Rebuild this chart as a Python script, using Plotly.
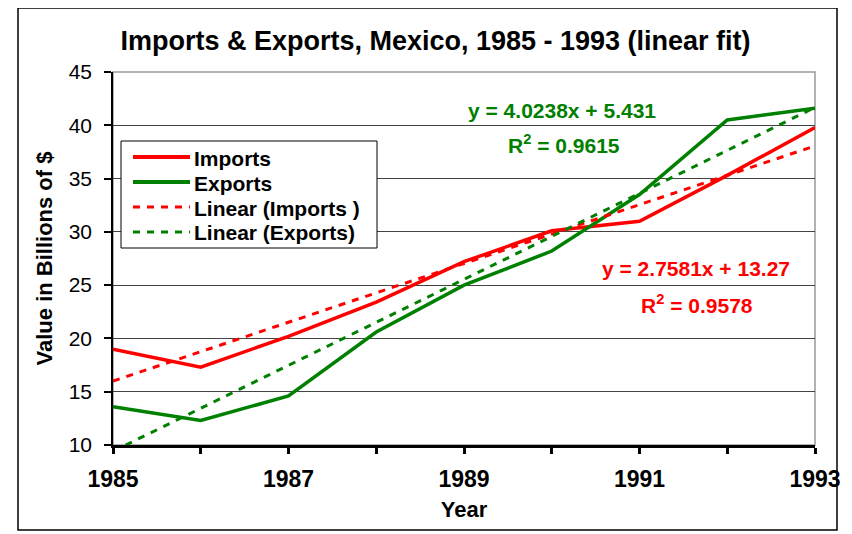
import numpy as np
import plotly.graph_objects as go

years = [1985, 1986, 1987, 1988, 1989, 1990, 1991, 1992, 1993]
imports = [19.0, 17.3, 20.2, 23.4, 27.2, 30.1, 31.0, 35.3, 39.8]
exports = [13.6, 12.3, 14.6, 20.6, 25.0, 28.2, 33.5, 40.5, 41.6]
xtick_vals = [1985, 1987, 1989, 1991, 1993]
xtick_text = ["1985", "1987", "1989", "1991", "1993"]
ytick_vals = [10, 15, 20, 25, 30, 35, 40, 45]
legend_labels = ["Imports", "Exports", "Linear (Imports )", "Linear (Exports)"]

RED = "#FF0000"
GREEN = "#008000"
FONT = "Arial, Liberation Sans, sans-serif"
DASH = "7px,7px"

idx = np.arange(1, len(years) + 1)
imp_fit = np.polyval(np.polyfit(idx, imports, 1), idx)
exp_fit = np.polyval(np.polyfit(idx, exports, 1), idx)

series = [
    (imports, RED, 3.5, "solid"),
    (exports, GREEN, 3.5, "solid"),
    (imp_fit, RED, 3, DASH),
    (exp_fit, GREEN, 3, DASH),
]

fig = go.Figure()
for (vals, col, w, dash), name in zip(series, legend_labels):
    fig.add_trace(go.Scatter(x=years, y=vals, mode="lines", name=name,
                             line=dict(color=col, width=w, dash=dash), showlegend=False))

# Figure is drawn at an 8px page offset; coordinates below are figure pixels.
L, T, PW, PH = 105, 64, 702, 373
def px(xpix):
    return (xpix - L) / PW
def py(ypix):
    return (T + PH - ypix) / PH

# outer frame
fig.add_shape(type="rect", xref="paper", yref="paper",
              x0=px(10), x1=px(829), y0=py(522), y1=py(0),
              line=dict(color="black", width=1.5), layer="below")
# plot-area border (gray)
fig.add_shape(type="rect", xref="paper", yref="paper", x0=0, x1=1, y0=0, y1=1,
              line=dict(color="#999999", width=1.5), layer="below")

# legend box (drawn by hand to match spacing)
fig.add_shape(type="rect", xref="paper", yref="paper",
              x0=px(113), x1=px(369), y0=py(240), y1=py(133),
              line=dict(color="black", width=1), fillcolor="white", layer="above")
for i, ((vals, col, w, dash), name) in enumerate(zip(series, legend_labels)):
    yc = 149 + 25 * i
    fig.add_shape(type="line", xref="paper", yref="paper",
                  x0=px(125), x1=px(182), y0=py(yc), y1=py(yc),
                  line=dict(color=col, width=4 if dash == "solid" else 3, dash=dash),
                  layer="above")
    fig.add_annotation(x=px(184), y=py(yc + 1), xref="paper", yref="paper",
                       xanchor="left", yanchor="middle", showarrow=False,
                       text="<b>" + name + "</b>",
                       font=dict(family=FONT, size=21, color="black"))

ann_font_g = dict(family=FONT, size=21, color=GREEN)
ann_font_r = dict(family=FONT, size=21, color=RED)
fig.add_annotation(x=1990.12, y=41.35, text="<b>y = 4.0238x + 5.431</b>", showarrow=False,
                   font=ann_font_g, xref="x", yref="y")
fig.add_annotation(x=1990.14, y=38.2, text="<b>R<sup>2</sup> = 0.9615</b>", showarrow=False,
                   font=ann_font_g, xref="x", yref="y")
fig.add_annotation(x=1991.64, y=26.56, text="<b>y = 2.7581x + 13.27</b>", showarrow=False,
                   font=ann_font_r, xref="x", yref="y")
fig.add_annotation(x=1991.66, y=23.2, text="<b>R<sup>2</sup> = 0.9578</b>", showarrow=False,
                   font=ann_font_r, xref="x", yref="y")

fig.update_layout(
    width=844, height=526,
    margin=dict(l=L, r=844 - L - PW, t=T, b=526 - T - PH),
    paper_bgcolor="white", plot_bgcolor="white",
    title=dict(text="<b>Imports &amp; Exports, Mexico, 1985 - 1993 (linear fit)</b>",
               x=427.5 / 844, xanchor="center", y=1 - 33 / 526, yanchor="middle",
               font=dict(family=FONT, size=27, color="black")),
    font=dict(family=FONT, color="black"),
    showlegend=False,
)
fig.update_xaxes(range=[1985, 1993], tickvals=xtick_vals, ticktext=xtick_text,
                 ticks="outside", ticklen=6, tickwidth=3, tickcolor="black",
                 minor=dict(tick0=1985, dtick=1, ticks="outside", ticklen=6, tickwidth=3,
                            tickcolor="black", showgrid=False),
                 showline=True, linecolor="black", linewidth=3, showgrid=False, zeroline=False,
                 tickfont=dict(family=FONT, size=23, color="black", weight="bold"),
                 ticklabelstandoff=5,
                 title=dict(text="<b>Year</b>", font=dict(family=FONT, size=22), standoff=12))
fig.update_yaxes(range=[10, 45], tickvals=ytick_vals,
                 ticks="outside", ticklen=7, tickwidth=1.5, tickcolor="black",
                 showline=True, linecolor="black", linewidth=1.5,
                 showgrid=True, gridcolor="#444444", gridwidth=1, zeroline=False,
                 tickfont=dict(family=FONT, size=21, color="black"),
                 ticklabelstandoff=8,
                 title=dict(text="<b>Value in Billions of $</b>", font=dict(family=FONT, size=22),
                            standoff=10))

fig.write_html("out.html")
